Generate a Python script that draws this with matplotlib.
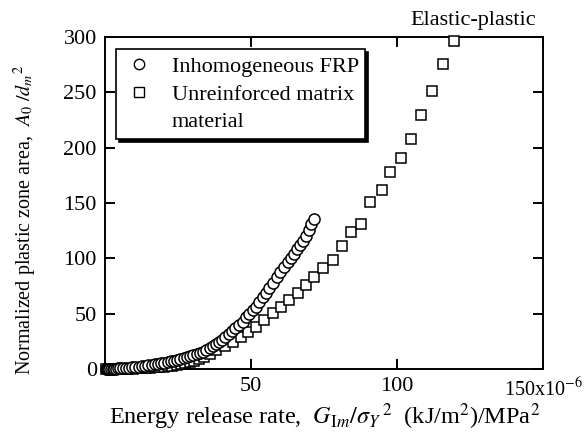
import matplotlib
matplotlib.use("Agg")
import matplotlib.pyplot as plt
from matplotlib.lines import Line2D

plt.rcParams['font.family'] = ['Liberation Serif', 'DejaVu Serif']
plt.rcParams['mathtext.fontset'] = 'stix'

# Inhomogeneous FRP (x in 1e-6 (kJ/m^2)/MPa^2, y = A0/dm^2)
frp_x = [0.2, 0.6, 1.0, 1.5, 2.0, 2.6, 3.2, 3.8, 4.5, 5.2, 6.0, 7.1, 8.2, 9.3,
         10.4, 11.5, 12.6, 13.7, 14.8, 15.9, 17.0, 18.1, 19.2, 20.3, 21.4,
         22.5, 23.6, 24.7, 25.8, 26.9, 28.0, 29.1, 30.2, 31.3, 32.4, 33.5,
         34.6, 35.8, 36.9, 38.0, 39.0, 40.1, 41.2, 42.4, 43.5, 44.6, 45.8,
         47.2, 48.3, 49.4, 50.6, 51.7, 52.8, 54.0, 55.1, 56.2, 57.4, 58.9,
         60.0, 61.4, 62.7, 63.6, 64.6, 65.6, 66.6, 67.7, 68.8, 69.8, 70.6,
         71.6]
frp_y = [0.0, 0.0, 0.1, 0.1, 0.2, 0.2, 0.3, 0.4, 0.5, 0.6, 0.8, 1.0, 1.2, 1.5,
         1.8, 2.1, 2.4, 2.8, 3.2, 3.6, 4.1, 4.6, 5.1, 5.7, 6.3, 6.9, 7.6,
         8.3, 9.1, 9.9, 10.8, 11.7, 12.7, 13.7, 14.7, 15.7, 17.2, 18.7,
         20.8, 22.6, 24.7, 26.4, 29.0, 31.6, 34.3, 36.8, 39.8, 42.7, 46.7,
         49.7, 53.3, 56.3, 60.8, 64.8, 69.0, 72.9, 77.4, 83.4, 87.9, 92.4,
         96.5, 100.5, 104.0, 108.0, 112.0, 116.0, 120.5, 125.5, 130.5,
         135.5]

# Unreinforced matrix material
mat_x = [0.3, 1.2, 2.2, 3.5, 5.0, 6.5, 8.0, 9.5, 11.0, 12.5, 14.0, 15.5,
         17.0, 18.5, 20.0, 21.5, 23.0, 24.5, 26.0, 27.5, 29.0, 30.5, 32.2,
         34.0, 35.8, 38.1, 40.9, 43.8, 46.4, 48.9, 51.7, 54.5, 57.4, 60.2,
         63.1, 66.0, 68.8, 71.6, 74.5, 77.9, 81.0, 84.1, 87.5, 90.7, 94.7,
         97.6, 101.2, 104.9, 108.3, 112.0, 115.8, 119.6]
mat_y = [0.0, 0.0, 0.0, 0.1, 0.1, 0.2, 0.3, 0.4, 0.5, 0.7, 0.9, 1.1, 1.4,
         1.7, 2.1, 2.6, 3.1, 3.7, 4.4, 5.2, 6.1, 7.2, 8.6, 10.5, 13.5, 17.2,
         20.8, 24.7, 29.2, 33.7, 38.2, 44.3, 50.3, 56.3, 62.0, 68.5, 75.5,
         83.4, 91.0, 98.5, 111.0, 124.0, 131.0, 151.0, 161.7, 178.3, 190.4,
         207.5, 229.5, 250.6, 275.0, 296.0]

x_ticks = [50, 100, 150]
x_ticklabels = ['50', '100', r'150x10$^{-6}$']
y_ticks = [0, 50, 100, 150, 200, 250, 300]

fig = plt.figure(figsize=(5.84, 4.43), dpi=100)
ax = fig.add_axes([0.180, 0.167, 0.750, 0.750])

ax.plot(mat_x, mat_y, ls='none', marker='s', ms=7.8, mfc='white',
        mec='black', mew=1.1, clip_on=False, zorder=3)
ax.plot(frp_x, frp_y, ls='none', marker='o', ms=8.0, mfc='white',
        mec='black', mew=1.1, clip_on=False, zorder=4)

ax.set_xlim(0, 150)
ax.set_ylim(0, 300)
ax.set_xticks(x_ticks)
ax.set_xticklabels(x_ticklabels)
ax.set_yticks(y_ticks)
ax.tick_params(direction='in', length=7, width=1.4, top=True, right=True,
               labelsize=16, pad=6)
ax.get_xticklabels()[-1].set_fontsize(14.5)
for s in ax.spines.values():
    s.set_linewidth(1.4)

ax.set_xlabel(r'Energy release rate,  $G_{\mathrm{I}m}/\sigma_{Y}\,{}^{2}$  (kJ/m$^2$)/MPa$^2$',
              fontsize=17.5)
ax.xaxis.set_label_coords(0.50, -0.098)
ax.set_ylabel(r'Normalized plastic zone area,  $A_0\ /d_{m}{}^{2}$', fontsize=14.5)
ax.yaxis.set_label_coords(-0.152, 0.45)

ax.text(0.84, 1.02, 'Elastic-plastic', transform=ax.transAxes,
        ha='center', va='bottom', fontsize=16)

handles = [
    Line2D([], [], ls='none', marker='o', ms=7.5, mfc='white', mec='black', mew=1.0),
    Line2D([], [], ls='none', marker='s', ms=7.5, mfc='white', mec='black', mew=1.0),
    Line2D([], [], ls='none', marker=None),
]
labels = ['Inhomogeneous FRP', 'Unreinforced matrix', 'material']
leg = ax.legend(handles, labels, loc='upper left', bbox_to_anchor=(0.025, 0.962),
                borderaxespad=0, fontsize=16, frameon=True, fancybox=False,
                shadow={'color': 'black', 'alpha': 1}, labelspacing=0.33,
                handlelength=1.5, handletextpad=0.7, borderpad=0.3)
leg.get_frame().set_edgecolor('black')
leg.get_frame().set_linewidth(1.2)
leg.set_zorder(10)

fig.savefig('out.png', dpi=100)
